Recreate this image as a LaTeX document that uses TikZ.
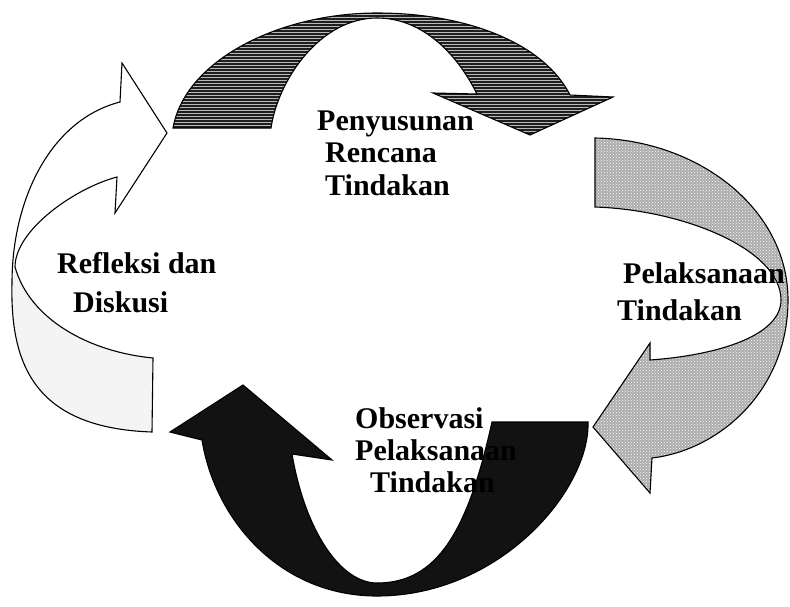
\documentclass[tikz,border=0pt]{standalone}
\usepackage{fontspec}
\setmainfont{Liberation Serif}
\usepackage{tikz}
\usetikzlibrary{patterns}

\tikzset{
  band/.style={draw=black, line width=1.1pt, line join=miter},
  planfill/.style={preaction={fill=black!88}, pattern=horizontal lines, pattern color=gray!55},
  actfill/.style={preaction={fill=gray!65}, pattern=crosshatch dots, pattern color=white},
  obsfill/.style={fill=black!93},
  backfill/.style={fill=gray!9},
  steplabel/.style={font=\bfseries\fontsize{30}{33}\selectfont, inner sep=0pt, anchor=base west}
}

\begin{document}
\begin{tikzpicture}[x=1pt, y=-1pt]
    \useasboundingbox (0,0) rectangle (790,606);

    % Penyusunan Rencana Tindakan
    \path[band, planfill] (173,128) .. controls (185,60) and (280,13) .. (377,13)
        .. controls (470,13) and (545,45) .. (570,95) -- (613,97) -- (530,135) -- (433,93) -- (477,94)
        .. controls (455,50) and (420,18) .. (377,18) .. controls (320,18) and (278,80) .. (271,128) -- cycle;

    % Pelaksanaan Tindakan
    \path[band, actfill] (595,138) .. controls (700,140) and (788,210) .. (788,300)
        .. controls (788,390) and (720,450) .. (652,458) -- (650,493) -- (593,427) -- (650,343) -- (650,360)
        .. controls (720,355) and (781,335) .. (781,300) .. controls (781,250) and (685,210) .. (595,207) -- cycle;

    % Observasi Pelaksanaan Tindakan
    \path[band, obsfill] (588,422) .. controls (590,490) and (500,596) .. (377,596)
        .. controls (280,596) and (215,520) .. (202,440) -- (170,432) -- (243,385) -- (332,460) -- (292,454)
        .. controls (305,530) and (340,583) .. (377,583) .. controls (438,583) and (468,530) .. (492,422) -- cycle;

    % Refleksi dan Diskusi
    \fill[backfill] (15,267) .. controls (30,320) and (90,352) .. (153,358) -- (152,432)
        .. controls (35,428) and (10,365) .. (12,283) -- cycle;
    \path[band] (153,358) .. controls (90,352) and (30,320) .. (15,267)
        .. controls (15,230) and (75,188) .. (117,177) -- (115,213) -- (167,133) -- (122,63) -- (120,102)
        .. controls (50,120) and (12,200) .. (12,283) .. controls (10,365) and (35,428) .. (152,432) -- cycle;

    % labels
    \node[steplabel] (plan1) at (317,130) {Penyusunan};
    \node[steplabel] (plan2) at (325,162) {Rencana};
    \node[steplabel] (plan3) at (325,195) {Tindakan};

    \node[steplabel] (act1) at (623,283) {Pelaksanaan};
    \node[steplabel] (act2) at (617,320) {Tindakan};

    \node[steplabel] (obs1) at (355,428) {Observasi};
    \node[steplabel] (obs2) at (355,460) {Pelaksanaan};
    \node[steplabel] (obs3) at (370,492) {Tindakan};

    \node[steplabel] (ref1) at (57,273) {Refleksi dan};
    \node[steplabel] (ref2) at (73,312) {Diskusi};
\end{tikzpicture}
\end{document}
